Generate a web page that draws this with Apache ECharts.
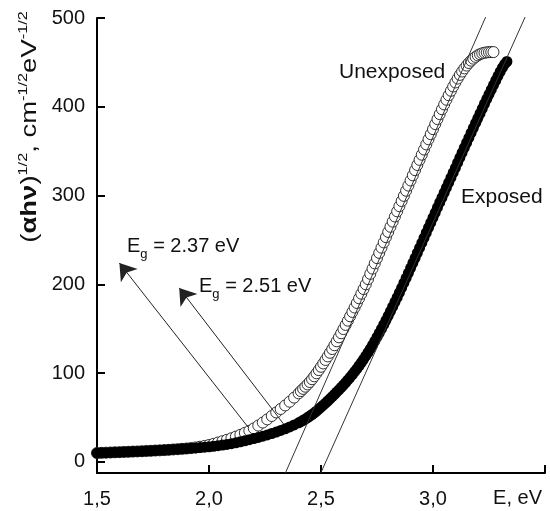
<!DOCTYPE html>
<html>
<head>
<meta charset="utf-8">
<script src="https://cdn.jsdelivr.net/npm/echarts@6/dist/echarts.min.js"></script>
<style>
html, body { margin: 0; padding: 0; background: #fff; }
#main { width: 550px; height: 511px; }
</style>
</head>
<body>
<div id="main"></div>
<script>
var myChart = echarts.init(document.getElementById('main'));
var FONT = '"Liberation Sans", Arial, sans-serif';

// photon energy, eV (shared by both series)
var energy = [
    1.50, 1.52, 1.54, 1.56, 1.58, 1.60, 1.62, 1.64, 1.66, 1.68,
    1.70, 1.72, 1.74, 1.76, 1.78, 1.80, 1.82, 1.84, 1.86, 1.88,
    1.90, 1.92, 1.94, 1.96, 1.98, 2.00, 2.02, 2.04, 2.06, 2.08,
    2.10, 2.12, 2.14, 2.16, 2.18, 2.20, 2.22, 2.24, 2.26, 2.28,
    2.30, 2.32, 2.34, 2.36, 2.38, 2.40,
    2.41, 2.42, 2.43, 2.44, 2.45, 2.46, 2.47, 2.48, 2.49, 2.50,
    2.51, 2.52, 2.53, 2.54, 2.55, 2.56, 2.57, 2.58, 2.59, 2.60,
    2.61, 2.62, 2.63, 2.64, 2.65, 2.66, 2.67, 2.68, 2.69, 2.70,
    2.71, 2.72, 2.73, 2.74, 2.75, 2.76, 2.77, 2.78, 2.79, 2.80,
    2.81, 2.82, 2.83, 2.84, 2.85, 2.86, 2.87, 2.88, 2.89, 2.90,
    2.91, 2.92, 2.93, 2.94, 2.95, 2.96, 2.97, 2.98, 2.99, 3.00,
    3.01, 3.02, 3.03, 3.04, 3.05, 3.06, 3.07, 3.08, 3.09, 3.10,
    3.11, 3.12, 3.13, 3.14, 3.15, 3.16, 3.17, 3.18, 3.19, 3.20,
    3.21, 3.22, 3.23, 3.24, 3.25, 3.26, 3.27, 3.28, 3.29, 3.30,
    3.31, 3.32, 3.33
];

// (alpha*h*nu)^1/2, unexposed film (open circles)
var unexposed = [
    10.0, 10.2, 10.4, 10.6, 10.8, 11.0, 11.2, 11.4, 11.6, 11.8,
    12.0, 12.3, 12.5, 12.8, 13.0, 13.3, 13.6, 14.0, 14.3, 14.7,
    15.1, 15.6, 16.3, 17.1, 18.0, 19.0, 20.3, 21.8, 23.3, 24.9,
    26.6, 28.5, 30.5, 32.7, 35.1, 37.7, 40.9, 44.3, 47.9, 51.7,
    55.7, 59.6, 63.6, 67.8, 72.4, 77.2,
    79.7, 82.2, 84.7, 87.3, 90.0, 93.1, 96.4, 99.8, 103.4, 107.1,
    110.9, 114.8, 118.8, 122.9, 127.1, 131.4, 135.8, 140.3, 144.9, 149.6,
    154.3, 159.1, 164.0, 168.9, 173.9, 179.0, 184.2, 189.4, 194.7, 200.0,
    205.9, 211.8, 217.7, 223.6, 229.5, 235.4, 241.3, 247.2, 253.1, 259.0,
    264.8, 270.6, 276.4, 282.2, 288.0, 293.8, 299.6, 305.4, 311.2, 317.0,
    322.8, 328.6, 334.4, 340.2, 346.0, 351.8, 357.6, 363.4, 369.1, 374.8,
    380.5, 386.1, 391.7, 397.2, 402.6, 407.9, 413.0, 418.0, 422.8, 427.4,
    431.8, 435.9, 439.7, 443.2, 446.4, 449.3, 451.9, 454.2, 456.2, 457.9,
    459.2, 460.2, 460.9, 461.3, 461.5, 461.6, 461.6
];

// exposed film (filled circles)
var exposed = [
    10.0, 10.2, 10.4, 10.6, 10.8, 11.0, 11.2, 11.4, 11.6, 11.8,
    12.0, 12.3, 12.5, 12.8, 13.0, 13.3, 13.6, 14.0, 14.3, 14.7,
    15.0, 15.4, 15.8, 16.2, 16.6, 17.0, 17.6, 18.3, 19.0, 19.7,
    20.5, 21.5, 22.6, 23.8, 25.0, 26.3, 27.6, 29.0, 30.4, 32.0,
    33.6, 35.4, 37.3, 39.4, 41.6, 44.0,
    45.3, 46.8, 48.3, 49.9, 51.6, 53.4, 55.3, 57.3, 59.4, 61.6,
    63.9, 66.2, 68.6, 71.0, 73.5, 76.0, 78.6, 81.2, 83.9, 86.6,
    89.4, 92.3, 95.3, 98.4, 101.6, 104.9, 108.3, 111.9, 115.6, 119.4,
    123.3, 127.4, 131.6, 136.0, 140.5, 145.1, 149.8, 154.6, 159.5, 164.5,
    169.6, 174.8, 180.0, 185.3, 190.7, 196.1, 201.6, 207.1, 212.7, 218.3,
    223.9, 229.6, 235.3, 241.0, 246.7, 252.4, 258.1, 263.8, 269.5, 275.2,
    280.9, 286.6, 292.2, 297.8, 303.4, 309.0, 314.6, 320.2, 325.8, 331.3,
    337.0, 342.8, 348.4, 354.0, 359.5, 365.0, 370.5, 376.0, 381.5, 387.0,
    392.5, 398.0, 403.4, 408.7, 414.0, 419.3, 424.5, 429.6, 434.6, 439.5,
    444.0, 448.0, 451.0
];

// extrapolation lines (end points) and arrows (tail -> head)
var fitUnexposed = [[2.341, -12.5], [3.235, 501]];
var fitExposed = [[2.499, -12.5], [3.411, 501]];
var arrowUnexposed = [[2.175, 39], [1.600, 224]];
var arrowExposed = [[2.332, 43], [1.867, 196]];

var yTicks = [0, 100, 200, 300, 400, 500];

function pairs(xs, ys) {
    var out = [];
    for (var i = 0; i < ys.length; i++) out.push([xs[i], ys[i]]);
    return out;
}

var axisColor = '#000';
var labelStyle = { color: '#111', fontSize: 20, fontFamily: FONT };

option = {
    animation: false,
    grid: { left: 97, right: 5, top: 18, bottom: 38 },
    xAxis: {
        type: 'value',
        min: 1.5,
        max: 3.5,
        interval: 0.5,
        axisLine: { show: true, onZero: false, lineStyle: { color: axisColor, width: 2 } },
        axisTick: { show: true, inside: true, length: 8, lineStyle: { color: axisColor, width: 2 } },
        axisLabel: Object.assign({
            margin: 16,
            showMaxLabel: true,
            formatter: function (v) {
                return v >= 3.5 ? '' : v.toFixed(1).replace('.', ',');
            }
        }, labelStyle),
        splitLine: { show: false }
    },
    yAxis: {
        type: 'value',
        min: -12.5,
        max: 500,
        axisLine: { show: true, onZero: false, lineStyle: { color: axisColor, width: 2 } },
        axisTick: { show: true, inside: true, length: 8, customValues: yTicks, lineStyle: { color: axisColor, width: 2 } },
        axisLabel: Object.assign({ margin: 12, customValues: yTicks }, labelStyle),
        splitLine: { show: false }
    },
    series: [
        {
            type: 'line',
            data: fitUnexposed,
            symbol: 'none',
            clip: false,
            silent: true,
            lineStyle: { color: '#333', width: 1 },
            markLine: {
                silent: true,
                symbol: ['none', 'arrow'],
                symbolSize: 16,
                label: { show: false },
                lineStyle: { color: '#222', width: 1, type: 'solid' },
                data: [
                    [{ coord: arrowUnexposed[0] }, { coord: arrowUnexposed[1] }],
                    [{ coord: arrowExposed[0] }, { coord: arrowExposed[1] }]
                ]
            }
        },
        {
            type: 'line',
            data: fitExposed,
            symbol: 'none',
            clip: false,
            silent: true,
            lineStyle: { color: '#333', width: 1 }
        },
        {
            name: 'Unexposed',
            type: 'scatter',
            data: pairs(energy, unexposed),
            symbol: 'circle',
            symbolSize: 11,
            silent: true,
            itemStyle: { color: '#fff', borderColor: '#1a1a1a', borderWidth: 0.9, opacity: 1 }
        },
        {
            name: 'Exposed',
            type: 'scatter',
            data: pairs(energy, exposed),
            symbol: 'circle',
            symbolSize: 11,
            silent: true,
            itemStyle: { color: '#000', opacity: 1 }
        }
    ],
    graphic: [
        {
            type: 'text', x: 30, y: 127, rotation: Math.PI / 2, scaleX: 1.25,
            style: {
                text: '{p|(}{b|αhν}{p|)}{s|1/2}{p|, cm}{s|-1/2}{p|eV}{s|-1/2}',
                align: 'center', verticalAlign: 'middle',
                rich: {
                    p: { fontSize: 22, fontFamily: FONT, lineHeight: 26, fill: '#111' },
                    b: { fontSize: 22, fontFamily: FONT, fontWeight: 'bold', lineHeight: 26, fill: '#111' },
                    s: { fontSize: 13, fontFamily: FONT, lineHeight: 13, verticalAlign: 'top', fill: '#111' }
                }
            }
        },
        {
            type: 'text', x: 127, y: 246,
            style: {
                text: '{e|E}{g|g}{e| = 2.37 eV}',
                align: 'left', verticalAlign: 'middle',
                rich: {
                    e: { fontSize: 20, fontFamily: FONT, lineHeight: 30, fill: '#111' },
                    g: { fontSize: 13, fontFamily: FONT, lineHeight: 13, verticalAlign: 'bottom', fill: '#111' }
                }
            }
        },
        {
            type: 'text', x: 199, y: 286,
            style: {
                text: '{e|E}{g|g}{e| = 2.51 eV}',
                align: 'left', verticalAlign: 'middle',
                rich: {
                    e: { fontSize: 20, fontFamily: FONT, lineHeight: 30, fill: '#111' },
                    g: { fontSize: 13, fontFamily: FONT, lineHeight: 13, verticalAlign: 'bottom', fill: '#111' }
                }
            }
        },
        {
            type: 'text', x: 339, y: 72,
            style: { text: 'Unexposed', fontSize: 21, fontFamily: FONT, fill: '#111', align: 'left', verticalAlign: 'middle' }
        },
        {
            type: 'text', x: 461, y: 197,
            style: { text: 'Exposed', fontSize: 21, fontFamily: FONT, fill: '#111', align: 'left', verticalAlign: 'middle' }
        },
        {
            type: 'text', x: 542, y: 498,
            style: { text: 'E, eV', fontSize: 20, fontFamily: FONT, fill: '#111', align: 'right', verticalAlign: 'middle' }
        }
    ]
};

myChart.setOption(option);
</script>
</body>
</html>
